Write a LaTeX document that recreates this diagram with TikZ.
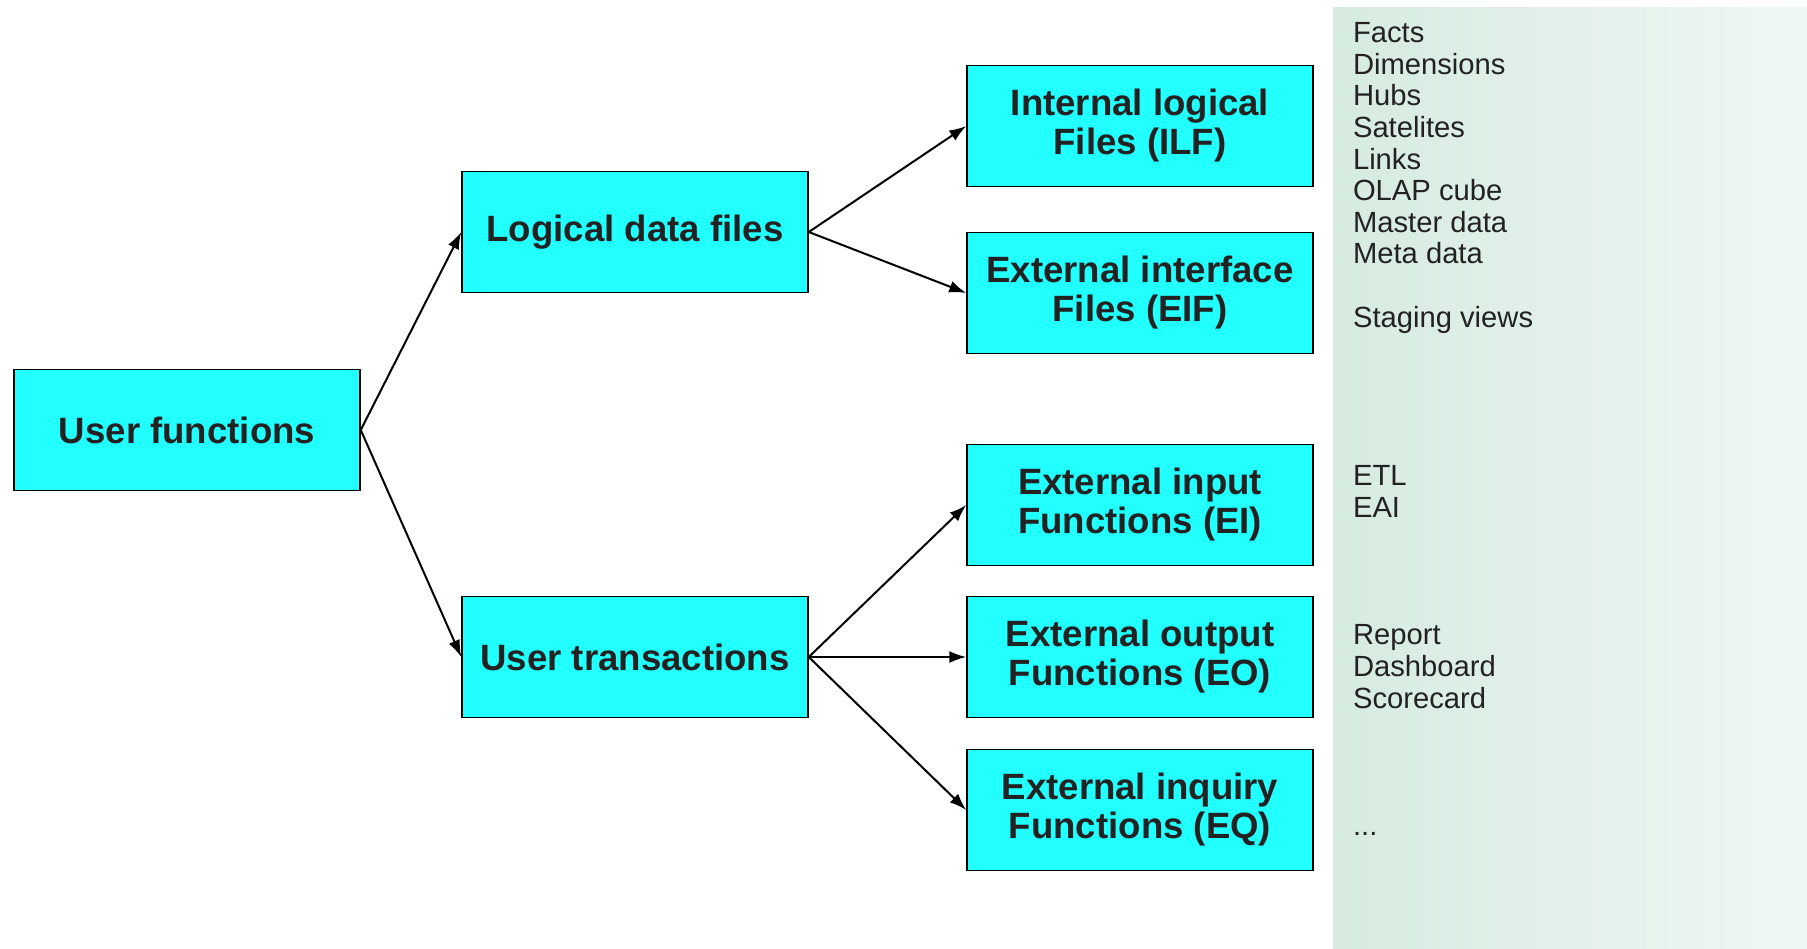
\documentclass[tikz,border=0pt]{standalone}
\usepackage{fontspec}
\setmainfont{Liberation Sans}
\usetikzlibrary{arrows.meta}
\definecolor{boxcyan}{HTML}{22FFFF}
\definecolor{inkgrey}{HTML}{222222}
\definecolor{panelleft}{HTML}{D6EBE0}
\definecolor{panelright}{HTML}{EFF7F4}
\tikzset{
  fnbox/.style={draw, line width=0.75pt, fill=boxcyan, text=inkgrey, minimum width=173pt, minimum height=60.5pt,
    inner sep=0pt, align=center, font=\bfseries\fontsize{18.3}{19.5}\selectfont},
  sidetext/.style={anchor=base west, align=left, inner sep=0pt, text=inkgrey, font=\fontsize{14.6}{15.8}\selectfont},
}
\begin{document}
\begin{tikzpicture}[x=0.5pt, y=-0.5pt, line width=1pt, >={Latex[length=8.5pt,width=6pt]}]
            \useasboundingbox (0,0) rectangle (1807,948);
            \shade[left color=panelleft, right color=panelright] (1333,7) rectangle (1807,948);
            \node [fnbox] (uf) at (187,430) {User functions};
            \node [fnbox] (ldf) at (635,232) {Logical data files};
            \node [fnbox] (ut) at (635,657) {User transactions};
            \node [fnbox] (ilf) at (1140,126) {Internal logical\\Files (ILF)};
            \node [fnbox] (eif) at (1140,293) {External interface\\Files (EIF)};
            \node [fnbox] (ei) at (1140,505) {External input\\Functions (EI)};
            \node [fnbox] (eo) at (1140,657) {External output\\Functions (EO)};
            \node [fnbox] (eq) at (1140,810) {External inquiry\\Functions (EQ)};
            % side notes, anchored at the baseline of their last line
            \node [sidetext] (files) at (1352,327) {Facts\\Dimensions\\Hubs\\Satelites\\Links\\OLAP cube\\Master data\\Meta data\\[15.8pt]Staging views};
            \node [sidetext] (inputs) at (1352,517) {ETL\\EAI};
            \node [sidetext] (outputs) at (1352,708) {Report\\Dashboard\\Scorecard};
            \node [sidetext] (more) at (1352,835) {...};
            \path[->] (uf.east) edge (ldf.west);
            \path[->] (uf.east) edge (ut.west);
            \path[->] (ldf.east) edge (ilf.west);
            \path[->] (ldf.east) edge (eif.west);
            \path[->] (ut.east) edge (ei.west);
            \path[->] (ut.east) edge (eo.west);
            \path[->] (ut.east) edge (eq.west);
        \end{tikzpicture}
\end{document}
